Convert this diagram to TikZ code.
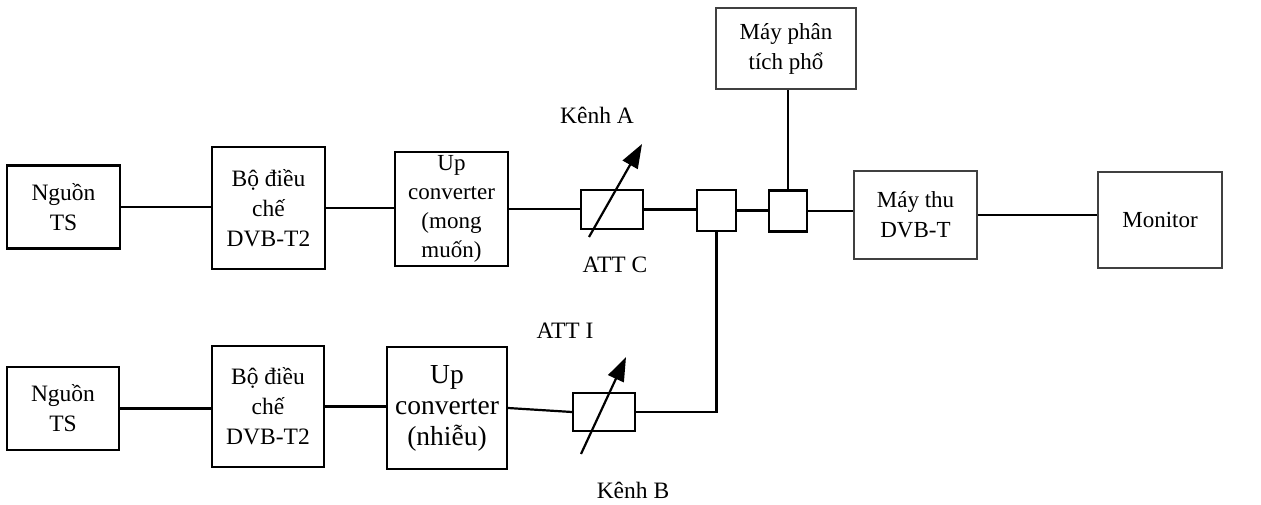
\documentclass[tikz,border=0pt]{standalone}
\usepackage{fontspec}
\setmainfont{Liberation Serif}
\usetikzlibrary{arrows.meta,calc}
\tikzset{
  box/.style={draw, line width=2.2pt, inner sep=0pt, align=center,
    font=\fontsize{23.5}{30}\selectfont},
  lbox/.style={draw=black!75, line width=1.3pt, inner sep=0pt, align=center,
    font=\fontsize{23}{30}\selectfont},
  wire/.style={line width=2.2pt},
  knob/.style={line width=2.2pt, -{Triangle[length=24pt,width=17pt]}},
  lbl/.style={inner sep=0pt, font=\fontsize{23.5}{29}\selectfont}
}
\begin{document}
\begin{tikzpicture}[x=1pt,y=-1pt]
\useasboundingbox (0,0) rectangle (1261,505);
% top chain
\node[box, minimum width=113pt, minimum height=83pt] (n1) at (63.5,207) {Nguồn\\TS};
\node[box, minimum width=113pt, minimum height=122pt] (b1) at (268.5,208) {Bộ điều\\chế\\DVB-T2};
\node[box, minimum width=113pt, minimum height=114pt, font=\fontsize{23}{29}\selectfont] (u1) at (451.5,209) {Up\\converter\\(mong\\muốn)};
\node[box, minimum width=62pt, minimum height=39pt] (attc) at (612,209.5) {};
\node[box, minimum width=39pt, minimum height=41pt] (s1) at (716.5,210.5) {};
\node[box, minimum width=38pt, minimum height=41pt] (s2) at (788,211) {};
\node[lbox, minimum width=140pt, minimum height=81pt] (pt) at (786,48.5) {Máy phân\\tích phổ};
\node[lbox, minimum width=123pt, minimum height=88pt] (rx) at (915.5,215) {Máy thu\\DVB-T};
\node[lbox, minimum width=124pt, minimum height=96pt] (mon) at (1160,220) {Monitor};
% bottom chain
\node[box, minimum width=112pt, minimum height=83pt] (n2) at (63,408.5) {Nguồn\\TS};
\node[box, minimum width=112pt, minimum height=121pt] (b2) at (268,406.5) {Bộ điều\\chế\\DVB-T2};
\node[box, minimum width=120pt, minimum height=122pt, font=\fontsize{27.5}{31}\selectfont] (u2) at (447,408) {Up\\converter\\(nhiễu)};
\node[box, minimum width=62pt, minimum height=38pt] (atti) at (604,412) {};
% labels
\node[lbl] (la) at (597,115) {Kênh A};
\node[lbl] (lc) at (615,265) {ATT C};
\node[lbl] (li) at (565,331) {ATT I};
\node[lbl] (lb) at (633,490) {Kênh B};
% wires top
\draw[wire] (n1.east) -- (n1.east -| b1.west);
\draw[wire] (b1.east) -- (b1.east -| u1.west);
\draw[wire] (u1.east) -- (u1.east -| attc.west);
\draw[wire] (attc.east) -- (attc.east -| s1.west);
\draw[wire] (s1.east) -- (s1.east -| s2.west);
\draw[wire] (s2.east) -- (s2.east -| rx.west);
\draw[wire] (rx.east) -- (rx.east -| mon.west);
\draw[wire] (s2.north) -- (s2.north |- pt.south);
% wires bottom
\draw[wire] (n2.east) -- (n2.east -| b2.west);
\draw[wire] (b2.east) -- (b2.east -| u2.west);
\draw[wire] (u2.east) -- (atti.west);
\draw[wire] (atti.east) -- (atti.east -| s1.south) -- (s1.south);
% variable attenuator arrows
\draw[knob] ($(attc.center)+(-23,27.5)$) -- ($(attc.center)+(30,-65.5)$);
\draw[knob] ($(atti.center)+(-23,42)$) -- ($(atti.center)+(22,-55)$);
\end{tikzpicture}
\end{document}
